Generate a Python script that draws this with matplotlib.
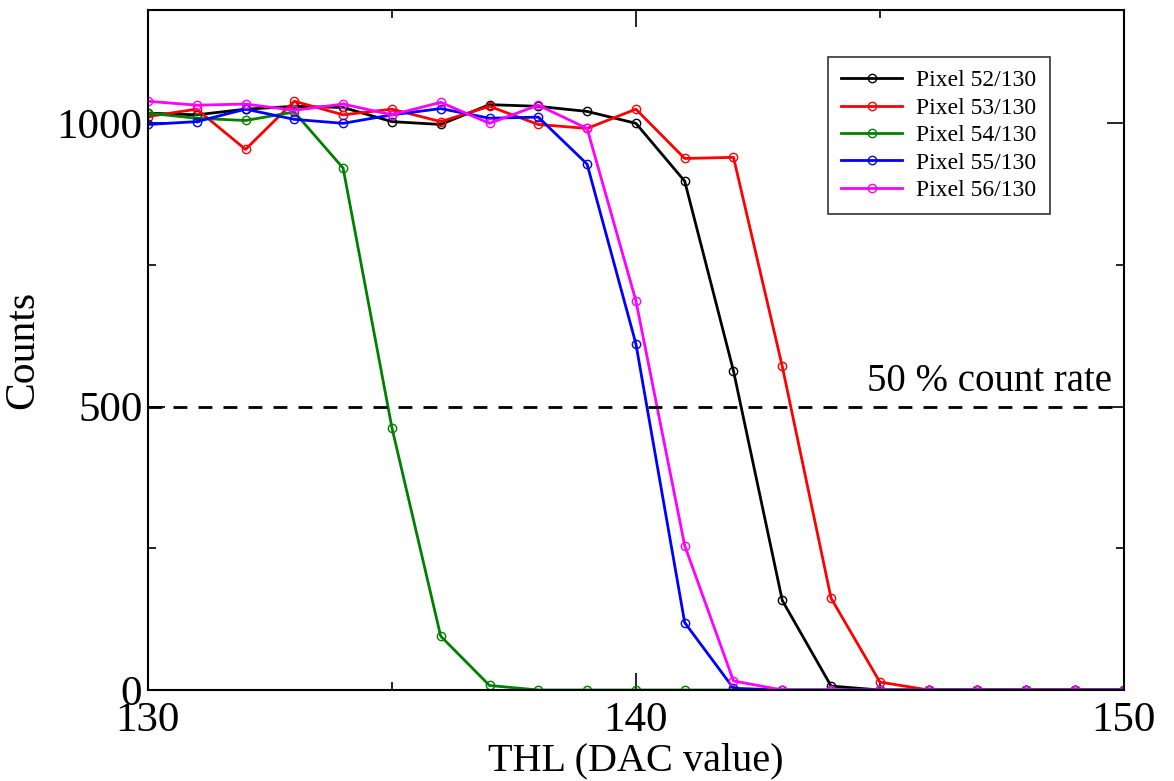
import matplotlib.pyplot as plt
from matplotlib.ticker import MultipleLocator

plt.rcParams['font.family'] = ['Liberation Serif', 'DejaVu Serif']

thl = list(range(130, 151))

# counts per pixel
pix52 = [1018, 1015, 1025, 1030, 1028, 1003, 998, 1033, 1030, 1021, 1000,
         898, 563, 158, 7, 0, 0, 0, 0, 0, 0]
pix53 = [1012, 1025, 954, 1039, 1015, 1025, 1003, 1030, 998, 991, 1025,
         938, 940, 571, 162, 14, 0, 0, 0, 0, 0]
pix54 = [1018, 1009, 1005, 1020, 921, 463, 95, 8, 0, 0, 0,
         0, 0, 0, 0, 0, 0, 0, 0, 0, 0]
pix55 = [998, 1003, 1025, 1007, 1000, 1015, 1026, 1009, 1011, 928, 611,
         119, 3, 0, 0, 0, 0, 0, 0, 0, 0]
pix56 = [1039, 1032, 1034, 1023, 1034, 1015, 1037, 1000, 1032, 991, 687,
         255, 16, 0, 0, 0, 0, 0, 0, 0, 0]

series = [
    ('Pixel 52/130', pix52, 'black'),
    ('Pixel 53/130', pix53, 'red'),
    ('Pixel 54/130', pix54, 'green'),
    ('Pixel 55/130', pix55, 'blue'),
    ('Pixel 56/130', pix56, 'magenta'),
]

fig = plt.figure(figsize=(11.74, 7.81), dpi=100)
ax = fig.add_axes([0.126, 0.1165, 0.8313, 0.8707])

for label, counts, color in series:
    ax.plot(thl, counts, color=color, lw=2, marker='o', ms=6,
            fillstyle='none', mew=1.0, label=label)

ax.plot([130, 150], [500, 500], color='black', lw=2, ls=(0, (5, 4)))
ax.text(149.75, 545, '50 % count rate', fontsize=28, ha='right', va='center')

ax.set_xlim(130, 150)
ax.set_ylim(0, 1200)
ax.xaxis.set_major_locator(MultipleLocator(10))
ax.xaxis.set_minor_locator(MultipleLocator(5))
ax.yaxis.set_major_locator(MultipleLocator(500))
ax.yaxis.set_minor_locator(MultipleLocator(250))
ax.tick_params(which='both', direction='in', top=True, right=True, width=1.2)
ax.tick_params(which='major', length=12, labelsize=31, pad=4)
ax.tick_params(axis='x', which='major', pad=8)
ax.tick_params(which='minor', length=6)
for s in ax.spines.values():
    s.set_linewidth(1.5)

ax.set_xlabel('THL (DAC value)', fontsize=29, labelpad=2)
ax.set_ylabel('Counts', fontsize=30, labelpad=10)

leg = ax.legend(loc='upper right', bbox_to_anchor=(0.924, 0.931), fontsize=17,
                frameon=True, fancybox=False, edgecolor='black',
                borderaxespad=0, handlelength=2.6, handletextpad=0.6,
                borderpad=0.55, labelspacing=0.25)
leg.get_frame().set_linewidth(1.2)

fig.savefig('out.png', dpi=100)
